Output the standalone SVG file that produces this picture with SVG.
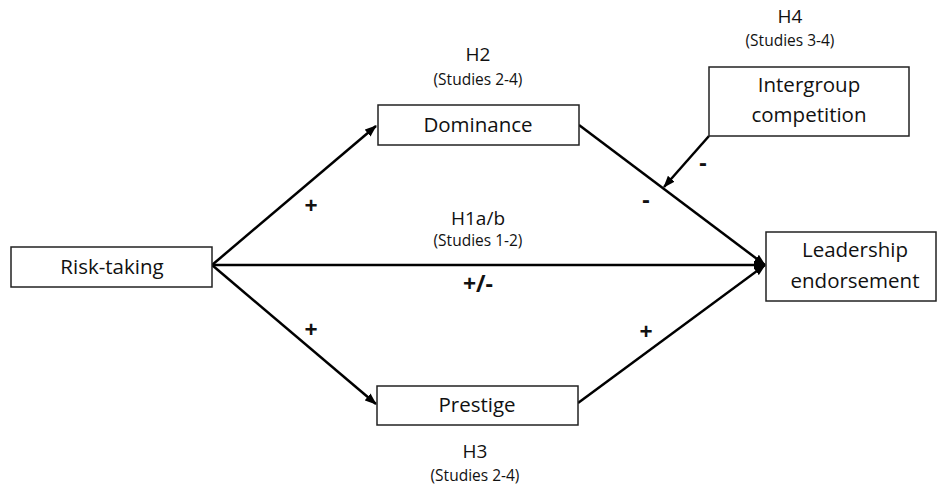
<svg xmlns="http://www.w3.org/2000/svg" width="937" height="489" viewBox="0 0 937 489">
<style>
.box{fill:#fff;stroke:#222;stroke-width:1.5}
.t{font-family:"Open Sans","Liberation Sans",sans-serif;font-size:20.5px;fill:#111;text-anchor:middle}
.h{font-family:"Open Sans","Liberation Sans",sans-serif;font-size:19px;fill:#111;text-anchor:middle}
.s{font-family:"Open Sans","Liberation Sans",sans-serif;font-size:15.5px;fill:#111;text-anchor:middle}
.sg{font-family:"Open Sans","Liberation Sans",sans-serif;font-size:23px;font-weight:bold;fill:#111;text-anchor:middle}
.c{stroke:#000;stroke-width:2.5;fill:none}
</style>
<defs>
<marker id="ah" markerWidth="12" markerHeight="9" refX="11" refY="4.5" orient="auto" markerUnits="userSpaceOnUse">
<path d="M0,0 L12,4.5 L0,9 Z" fill="#000"/>
</marker>
</defs>
<rect width="937" height="489" fill="#fff"/>
<g id="connectors">
<line class="c" x1="212" y1="265" x2="765" y2="265" marker-end="url(#ah)"/>
<line class="c" x1="212" y1="265" x2="376" y2="126" marker-end="url(#ah)"/>
<line class="c" x1="212" y1="265" x2="376" y2="404" marker-end="url(#ah)"/>
<line class="c" x1="579" y1="125" x2="765" y2="265" marker-end="url(#ah)"/>
<line class="c" x1="578" y1="403" x2="765" y2="265" marker-end="url(#ah)"/>
<line class="c" x1="709" y1="136" x2="664" y2="187" marker-end="url(#ah)"/>
<text class="sg" x="311" y="214">+</text>
<text class="sg" x="311" y="338">+</text>
<text class="sg" x="646" y="340">+</text>
<text class="sg" x="478" y="292">+/-</text>
<text class="sg" x="703" y="171">-</text>
<text class="sg" x="646" y="208">-</text>
<text class="h" x="478" y="225">H1a/b</text>
<text class="s" x="478" y="246">(Studies 1-2)</text>
</g>
<g id="risk-taking">
<rect class="box" x="11" y="247" width="201" height="40"/>
<text class="t" x="112" y="274">Risk-taking</text>
</g>
<g id="dominance">
<text class="h" x="478" y="61">H2</text>
<text class="s" x="478" y="85">(Studies 2-4)</text>
<rect class="box" x="378" y="105" width="201" height="40"/>
<text class="t" x="478" y="132">Dominance</text>
</g>
<g id="prestige">
<rect class="box" x="377" y="386" width="201" height="39"/>
<text class="t" x="477" y="412">Prestige</text>
<text class="h" x="475" y="458">H3</text>
<text class="s" x="475" y="481">(Studies 2-4)</text>
</g>
<g id="intergroup">
<text class="h" x="790" y="23">H4</text>
<text class="s" x="790" y="46">(Studies 3-4)</text>
<rect class="box" x="709" y="67" width="200" height="69"/>
<text class="t" x="809" y="92">Intergroup</text>
<text class="t" x="809" y="122">competition</text>
</g>
<g id="leadership">
<rect class="box" x="766" y="232" width="170" height="69"/>
<text class="t" x="855" y="257">Leadership</text>
<text class="t" x="855" y="288">endorsement</text>
</g>
</svg>
